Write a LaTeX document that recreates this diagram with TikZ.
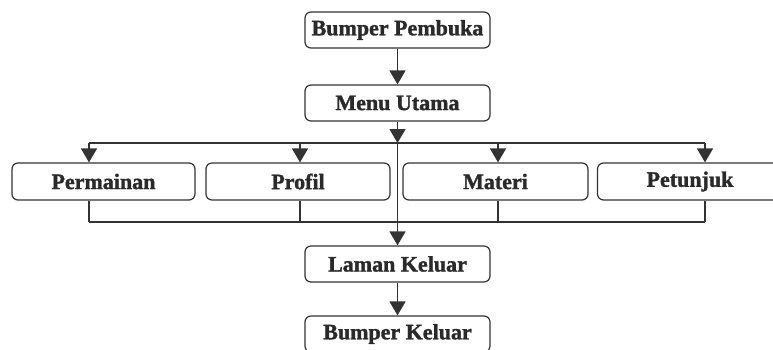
\documentclass[tikz,border=0pt]{standalone}
\usepackage{fontspec}
\setmainfont{Liberation Serif}[BoldFeatures={FakeBold=1.5}]
\usetikzlibrary{arrows.meta}
\definecolor{ink}{HTML}{333333}
\definecolor{txt}{HTML}{2A2A2A}
\tikzset{
  box/.style={draw=ink, line width=1.2pt, rounded corners=6pt, minimum width=185pt, minimum height=36pt, inner sep=0pt, font=\fontsize{22}{24}\selectfont\bfseries, text=txt},
  conn/.style={draw=ink, line width=1.5pt},
  arr/.style={conn, -{Triangle[width=16pt,length=14pt]}}
}
\begin{document}
\begin{tikzpicture}[x=1pt,y=-1pt]
\useasboundingbox (0,0) rectangle (773,349);
\node[box] (bp) at (397.5,30) {Bumper Pembuka};
\node[box] (mu) at (397.5,103) {Menu Utama};
\node[box, minimum width=183pt, minimum height=37pt] (perm) at (103.5,181.5) {Permainan};
\node[box, minimum width=184pt, minimum height=37pt] (prof) at (298,181.5) {Profil};
\node[box, minimum width=185pt, minimum height=37pt] (mat) at (495.5,181.5) {Materi};
\node[box, minimum width=185pt, minimum height=37pt] (pet) at (690,181.5) {\raisebox{1pt}{Petunjuk}};
\node[box] (lk) at (397.5,264) {Laman Keluar};
\node[box] (bk) at (397.5,334) {Bumper Keluar};
\coordinate (ta) at (89,143);
\coordinate (tb) at (300,143);
\coordinate (tc) at (498,143);
\coordinate (td) at (705,143);
\coordinate (ba) at (89,222);
\coordinate (bb) at (300,222);
\coordinate (bc) at (498,222);
\coordinate (bd) at (705,222);
\coordinate (tm) at (397.5,143);
\draw[arr] (bp) -- (mu);
\draw[conn] (ta) -- (td);
\draw[conn] (ba) -- (bd);
\draw[arr] (ta) -- (ta |- perm.north);
\draw[arr] (tb) -- (tb |- prof.north);
\draw[arr] (tc) -- (tc |- mat.north);
\draw[arr] (td) -- (td |- pet.north);
\draw[conn] (ba |- perm.south) -- (ba);
\draw[conn] (bb |- prof.south) -- (bb);
\draw[conn] (bc |- mat.south) -- (bc);
\draw[conn] (bd |- pet.south) -- (bd);
\draw[arr] (mu.south) -- (tm);
\draw[arr] (tm) -- (lk.north);
\draw[arr] (lk) -- (bk);
\end{tikzpicture}
\end{document}
